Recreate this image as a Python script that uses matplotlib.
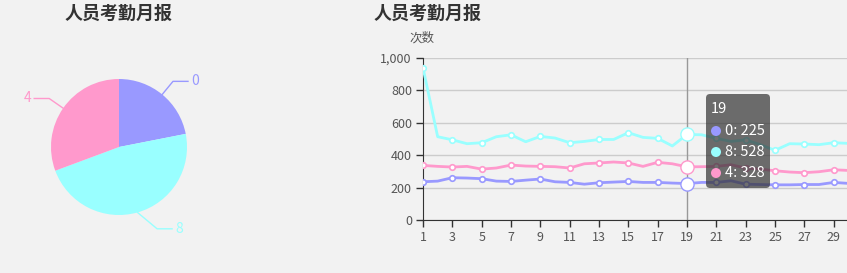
import matplotlib.pyplot as plt
import numpy as np
from matplotlib.patches import FancyBboxPatch, Circle
from matplotlib.transforms import IdentityTransform

plt.rcParams['font.family'] = ['Noto Sans CJK SC', 'DejaVu Sans']

title = '人员考勤月报'
y_label = '次数'
series_names = ['0', '8', '4']
colors = ['#9999ff', '#99ffff', '#ff99cc']
days = list(range(1, 32))
count_0 = [236, 240, 261, 259, 255, 240, 238, 246, 253, 236, 232, 221, 230, 234, 238, 232,
           232, 228, 225, 232, 232, 242, 221, 219, 217, 217, 219, 219, 232, 226, 226]
count_8 = [940, 514, 495, 471, 477, 514, 526, 483, 516, 506, 477, 485, 497, 497, 539, 510,
           504, 457, 528, 526, 504, 485, 495, 465, 430, 471, 469, 465, 477, 473, 470]
count_4 = [337, 331, 327, 331, 314, 321, 339, 333, 331, 329, 321, 347, 352, 358, 352, 331,
           356, 347, 328, 329, 331, 341, 321, 314, 304, 296, 292, 298, 310, 306, 305]
highlight_day = 19

all_series = [count_0, count_8, count_4]
totals = [sum(s) for s in all_series]

W, H = 847, 273
fig = plt.figure(figsize=(W / 100, H / 100), dpi=100, facecolor='#f2f2f2')

# titles
fig.text(119 / W, 1 - 13 / H, title, ha='center', va='center', fontsize=13,
         fontweight='bold', color='#333333')
fig.text(428 / W, 1 - 13 / H, title, ha='center', va='center', fontsize=13,
         fontweight='bold', color='#333333')

# pie (axes units = pixels)
axp = fig.add_axes([9 / W, 16 / H, 220 / W, 220 / H])
R = 68
wedges, _ = axp.pie(totals, colors=colors, startangle=90, counterclock=False,
                    radius=R, center=(0, 0))
axp.set_xlim(-110, 110)
axp.set_ylim(-110, 110)
axp.set_aspect('equal')
axp.axis('off')
elbow_shift = [0, 15, 0]
for w, name, c, sh in zip(wedges, series_names, colors, elbow_shift):
    th = np.deg2rad((w.theta1 + w.theta2) / 2)
    dx, dy = np.cos(th), np.sin(th)
    sgn = 1 if dx >= 0 else -1
    x0, y0 = R * dx, R * dy
    x1, y1 = (R + 17) * dx + sgn * sh, (R + 17) * dy
    x2 = x1 + sgn * 15
    axp.plot([x0, x1, x2], [y0, y1, y1], color=c, lw=1, clip_on=False)
    axp.text(x2 + sgn * 3, y1, name, color=c, fontsize=10,
             ha='left' if sgn > 0 else 'right', va='center')

# line chart (right part runs past the figure edge, as in the original)
ax = fig.add_axes([423 / W, 53 / H, 440 / W, 162 / H])
ax.set_facecolor('none')
ax.set_xlim(1, 31)
ax.set_ylim(0, 1000)
for s, c in zip(all_series, colors):
    ax.plot(days, s, color=c, lw=2, zorder=3, marker='o', markevery=2,
            ms=4, mfc='white', mec=c, mew=1.2)
    ax.plot(highlight_day, s[days.index(highlight_day)], 'o', ms=9.5, mfc='white',
            mec=c, mew=1, zorder=4)
ax.axvline(highlight_day, color='#999999', lw=1, zorder=2)
ax.set_xticks(days[:-1:2])
ax.set_yticks(range(0, 1001, 200))
ax.set_yticklabels([f'{v:,}' for v in range(0, 1001, 200)])
ax.yaxis.grid(True, color='#cccccc', lw=1)
ax.set_axisbelow(True)
for sp in ['top', 'right']:
    ax.spines[sp].set_visible(False)
for sp in ['left', 'bottom']:
    ax.spines[sp].set_color('#333333')
ax.tick_params(axis='both', colors='#333333', labelcolor='#555555', labelsize=9,
               length=5, width=1, pad=3)
fig.text(422 / W, 1 - 38 / H, y_label, ha='center', va='center', fontsize=9,
         color='#555555')

# tooltip
tt = FancyBboxPatch((706, H - 188), 64, 94, boxstyle='round,pad=0,rounding_size=4',
                    transform=IdentityTransform(), facecolor=(50 / 255, 50 / 255, 50 / 255, 0.7),
                    edgecolor='none', zorder=10)
fig.add_artist(tt)
fig.text(711 / W, 1 - 109 / H, str(highlight_day), color='white', fontsize=10.5,
         ha='left', va='center', zorder=11)
for i, (name, s, c) in enumerate(zip(series_names, all_series, colors)):
    yy = 131 + i * 21
    fig.add_artist(Circle((716, H - yy), 5, transform=IdentityTransform(),
                          facecolor=c, edgecolor='none', zorder=11))
    fig.text(725 / W, 1 - yy / H, f'{name}: {s[days.index(highlight_day)]}',
             color='white', fontsize=10.5, ha='left', va='center', zorder=11)

fig.savefig('out.png', dpi=100, facecolor=fig.get_facecolor())
